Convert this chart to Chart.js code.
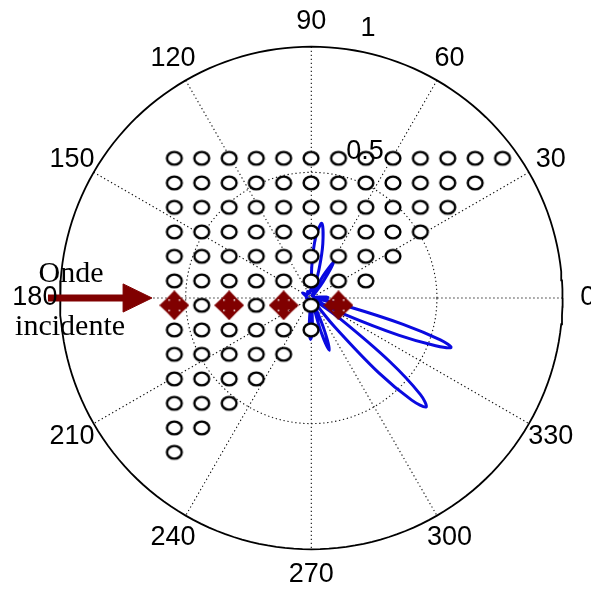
<!DOCTYPE html>
<html>
<head>
<meta charset="utf-8">
<script src="https://cdn.jsdelivr.net/npm/chart.js@4.4.1/dist/chart.umd.min.js"></script>
<style>
  html, body { margin: 0; padding: 0; background: #fff; }
  #wrap { width: 591px; height: 590px; }
</style>
</head>
<body>
<div id="wrap"><canvas id="polar"></canvas></div>
<script>
// radiation pattern (angle in degrees, radius normalised to outer circle)
var patternAngles = [0, 4, 8, 12, 20, 30, 40, 50, 54, 58, 62, 66, 72, 75, 78, 82, 86, 89, 92, 100, 110, 120, 135, 150, 165, 180, 200, 220, 240, 255, 262, 266, 269, 272, 276, 283, 286, 289, 292, 295, 300, 306, 309, 312, 314.5, 316.5, 318.5, 321, 324, 327, 331, 334, 337, 339, 340.5, 342, 344, 347, 350, 352, 356, 360];
var patternRadii  = [0.07, 0.06, 0.02, 0.01, 0.01, 0.01, 0.01, 0.01, 0.08, 0.165, 0.10, 0.01, 0.02, 0.12, 0.22, 0.30, 0.24, 0.13, 0.03, 0.03, 0.02, 0.03, 0.02, 0.04, 0.02, 0.02, 0.01, 0.01, 0.01, 0.01, 0.02, 0.12, 0.165, 0.12, 0.02, 0.02, 0.14, 0.22, 0.14, 0.02, 0.01, 0.02, 0.15, 0.40, 0.57, 0.63, 0.58, 0.40, 0.15, 0.02, 0.02, 0.15, 0.38, 0.53, 0.59, 0.54, 0.38, 0.15, 0.03, 0.01, 0.05, 0.07];

// sensor grid drawn as circles (units of the outer circle radius)
var gridCols = [-0.545, -0.436, -0.327, -0.219, -0.110, -0.001, 0.108, 0.217, 0.325, 0.434, 0.543, 0.652, 0.761];
var gridRows = [0.556, 0.458, 0.361, 0.263, 0.166, 0.068, -0.029, -0.127, -0.224, -0.322, -0.419, -0.517, -0.614];
var circlesPerRow = [13, 12, 11, 10, 9, 8, 0, 6, 5, 4, 3, 2, 1];
var sourceRow = 6;
var sourceCircleCols = [1, 3, 5];
var sourceCrossCols = [0, 2, 4, 6];

var angleTicks = [0, 30, 60, 90, 120, 150, 180, 210, 240, 270, 300, 330];
var radiusTicks = [0.5, 1];

var deg = Math.PI / 180;
function polarPt(a, r) { return { x: r * Math.cos(a * deg), y: r * Math.sin(a * deg) }; }

function circlePts(r) {
  var pts = [];
  for (var a = 0; a <= 360; a += 2) pts.push(polarPt(a, r));
  return pts;
}

// circle marker (slightly wide, like the original)
function makeRing() {
  var c = document.createElement('canvas');
  c.width = 20; c.height = 18;
  var g = c.getContext('2d');
  g.fillStyle = '#fff';
  g.strokeStyle = '#000';
  g.lineWidth = 2.4;
  g.beginPath();
  g.ellipse(10, 9, 7.4, 6.4, 0, 0, 2 * Math.PI);
  g.fill();
  g.stroke();
  return c;
}

// four-way arrow marker
function makeCross() {
  var s = 30, c = s / 2, w = 4.5, h = 8.5, L = 9;
  var cv = document.createElement('canvas');
  cv.width = s; cv.height = s;
  var g = cv.getContext('2d');
  var p = [
    [c, 0], [c + h, L], [c + w, L], [c + w, c - w], [s - L, c - w], [s - L, c - h], [s, c],
    [s - L, c + h], [s - L, c + w], [c + w, c + w], [c + w, s - L], [c + h, s - L], [c, s],
    [c - h, s - L], [c - w, s - L], [c - w, c + w], [L, c + w], [L, c + h], [0, c],
    [L, c - h], [L, c - w], [c - w, c - w], [c - w, L], [c - h, L]
  ];
  g.fillStyle = '#800000';
  g.beginPath();
  g.moveTo(p[0][0], p[0][1]);
  for (var i = 1; i < p.length; i++) g.lineTo(p[i][0], p[i][1]);
  g.closePath();
  g.fill();
  return cv;
}

var datasets = [];

// spokes (dotted)
for (var k = 0; k < 6; k++) {
  datasets.push({
    data: [polarPt(k * 30, 1), polarPt(k * 30 + 180, 1)],
    showLine: true, borderColor: '#111', borderWidth: 1.1, borderDash: [1.3, 2.7],
    pointRadius: 0, order: 10
  });
}
// 0.5 circle (dotted) and outer circle (solid)
datasets.push({
  data: circlePts(radiusTicks[0]), showLine: true, borderColor: '#111', borderWidth: 1.1,
  borderDash: [1.3, 2.7], pointRadius: 0, order: 10
});
datasets.push({
  data: circlePts(radiusTicks[1]), showLine: true, borderColor: '#000', borderWidth: 1.8,
  pointRadius: 0, order: 9
});

// radiation pattern
datasets.push({
  data: patternAngles.map(function (a, i) { return polarPt(a, patternRadii[i]); }),
  showLine: true, borderColor: '#0a0ae0', borderWidth: 3, pointRadius: 0,
  tension: 0.35, order: 8
});

// grid circles
var ringPts = [];
circlesPerRow.forEach(function (n, r) {
  for (var i = 0; i < n; i++) ringPts.push({ x: gridCols[i], y: gridRows[r] });
});
sourceCircleCols.forEach(function (i) { ringPts.push({ x: gridCols[i], y: gridRows[sourceRow] }); });
datasets.push({
  data: ringPts, showLine: false, pointStyle: makeRing(), pointRadius: 8, order: 6
});

// source crosses
datasets.push({
  data: sourceCrossCols.map(function (i) { return { x: gridCols[i], y: gridRows[sourceRow] }; }),
  showLine: false, pointStyle: makeCross(), pointRadius: 15, order: 5
});

// incident wave arrow
datasets.push({
  data: [{ x: -1.048, y: 0 }, { x: -0.74, y: 0 }],
  showLine: true, borderColor: '#800000', borderWidth: 7, pointRadius: 0, order: 4
});
datasets.push({
  data: [{ x: -0.749, y: 0.056 }, { x: -0.634, y: 0 }, { x: -0.749, y: -0.056 }, { x: -0.749, y: 0.056 }],
  showLine: true, borderColor: '#800000', backgroundColor: '#800000', borderWidth: 1,
  fill: 'shape', pointRadius: 0, order: 3
});

var textPlugin = {
  id: 'polarText',
  afterDatasetsDraw: function (chart) {
    var ctx = chart.ctx, sx = chart.scales.x, sy = chart.scales.y;
    function px(v) { return sx.getPixelForValue(v); }
    function py(v) { return sy.getPixelForValue(v); }
    ctx.save();
    ctx.fillStyle = '#000';
    ctx.textAlign = 'center';
    ctx.textBaseline = 'middle';
    ctx.font = '27px "Liberation Sans", Arial, sans-serif';
    angleTicks.forEach(function (a) {
      var p = polarPt(a, 1.1);
      ctx.fillText(String(a), px(p.x), py(p.y));
    });
    ctx.fillText(String(radiusTicks[0]), px(0.214), py(0.581));
    ctx.fillText(String(radiusTicks[1]), px(0.226), py(1.074));
    ctx.font = '30px "Liberation Serif", "Times New Roman", serif';
    ctx.textBaseline = 'alphabetic';
    ctx.fillText('Onde', px(-0.956), py(0.064));
    ctx.fillText('incidente', px(-0.960), py(-0.147));
    ctx.restore();
  }
};

new Chart(document.getElementById('polar'), {
  type: 'scatter',
  data: { datasets: datasets },
  options: {
    responsive: true,
    maintainAspectRatio: false,
    animation: false,
    layout: { padding: 0, autoPadding: false },
    plugins: { legend: { display: false }, tooltip: { enabled: false } },
    scales: {
      x: { type: 'linear', min: -1.2388, max: 1.1130, display: false },
      y: { type: 'linear', min: -1.1620, max: 1.1858, display: false }
    }
  },
  plugins: [textPlugin]
});
</script>
</body>
</html>
